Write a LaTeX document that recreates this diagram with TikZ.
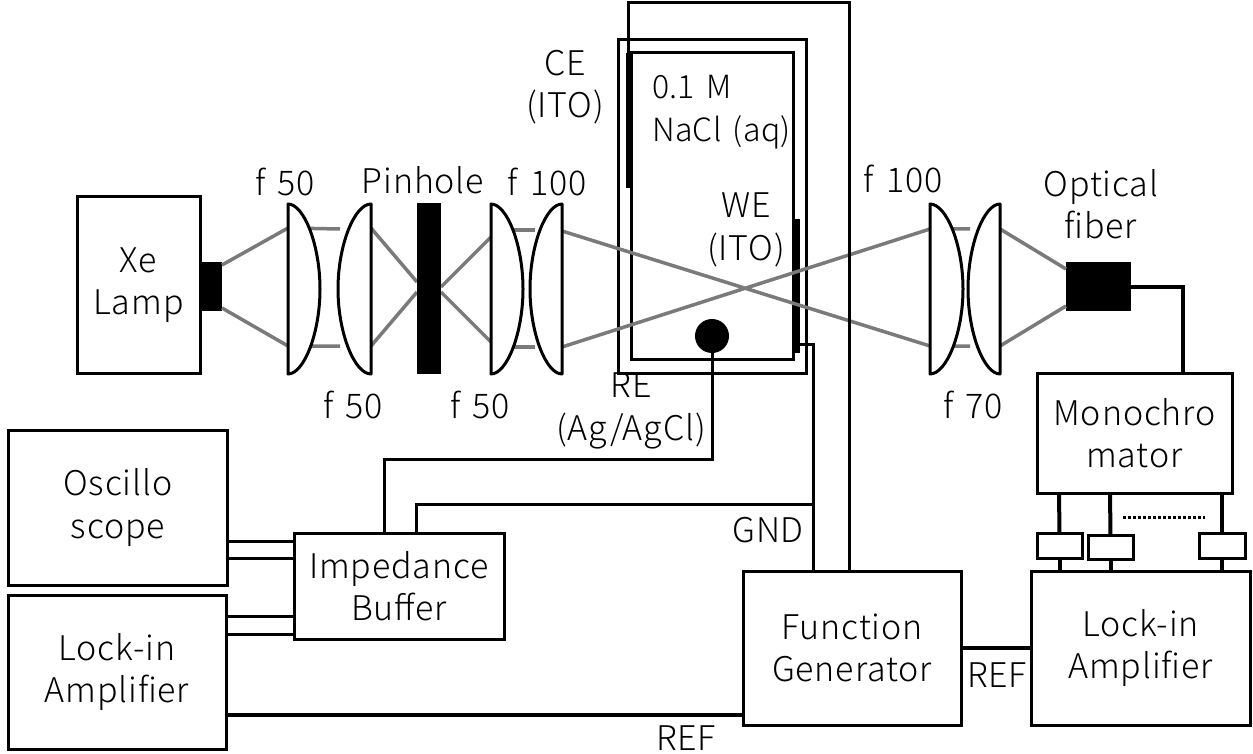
\documentclass[tikz,border=0pt]{standalone}
\usepackage{fontspec}
\setmainfont{Noto Sans CJK JP Light}[LetterSpace=2.5,WordSpace=1.5]
\tikzset{
	box/.style={draw,line width=3pt,align=center,outer sep=0pt,inner sep=0pt,fill=white},
	blk/.style={fill=black,draw=none,outer sep=0pt,inner sep=0pt},
	wire/.style={line width=3pt},
	ray/.style={line width=3.5pt,draw=black!52},
	lensline/.style={line width=3pt,fill=white,line join=round},
	lbl/.style={align=center,inner sep=0pt}
}
\begin{document}
\begin{tikzpicture}[x=1pt,y=-1pt,font=\fontsize{34}{42.5}\selectfont,line join=miter]
	\useasboundingbox (0,0) rectangle (1253,754);
	% cell
	\node[box,minimum width=188pt,minimum height=333pt] (cell) at (712,206.5) {};
	\node[box,minimum width=162pt,minimum height=306pt] (soln) at (712,206) {};
	\node[blk,minimum width=6pt,minimum height=135pt] (ce) at (629,120.5) {};
	\node[blk,minimum width=7pt,minimum height=134pt] (we) at (796.5,286) {};
	\node[circle,fill=black,minimum size=34pt,inner sep=0pt,outer sep=0pt] (re) at (712,336) {};
	% light path
	\node[blk,minimum width=22pt,minimum height=49pt] (lamp) at (211,286.5) {};
	\node[blk,minimum width=65pt,minimum height=49pt] (fiber) at (1098.5,286.5) {};
	\draw[ray] (222,265)--(288,228)--(340,229) (222,308)--(288,346)--(340,346);
	\draw[ray] (371,228)--(417,282) (371,346)--(417,292);
	\draw[ray] (441,287)--(491,237) (441,292)--(491,342);
	\draw[ray] (491,230)--(535,230) (491,347)--(535,347);
	\draw[ray] (562,231)--(930,346)--(970,346) (562,347)--(930,229)--(970,229);
	\draw[ray] (1000,229)--(1066,269) (1000,346)--(1066,306);
	\foreach \x/\w in {288/32,371/-33,491/32,562/-32,930/33,1000/-32}
		\draw[lensline,shift={(\x,0)},xscale=\w] (0,204) .. controls (.5,204) and (1,245) .. (1,289) .. controls (1,333) and (.5,374) .. (0,374) -- cycle;
	\node[blk,minimum width=24pt,minimum height=171pt] (pinhole) at (429,288.5) {};
	% instruments
	\node[box,minimum width=123pt,minimum height=176pt] (xe) at (138.5,285) {Xe\\Lamp};
	\node[box,minimum width=195pt,minimum height=120pt] (mono) at (1134.5,433) {Monochro\\mator};
	\node[box,minimum width=219pt,minimum height=155pt] (osc) at (118,507.5) {Oscillo\\scope};
	\node[box,minimum width=218pt,minimum height=154pt] (lockL) at (117,672) {Lock-in\\Amplifier};
	\node[box,minimum width=210pt,minimum height=106pt] (imp) at (399,586) {Impedance\\Buffer};
	\node[box,minimum width=218pt,minimum height=154pt] (fg) at (852,648) {Function\\Generator};
	\node[box,minimum width=219pt,minimum height=154pt] (lockR) at (1140.5,648) {Lock-in\\Amplifier};
	% choppers
	\coordinate (ch1) at (1059,493);
	\coordinate (ch2) at (1110,493);
	\coordinate (ch3) at (1222,493);
	\node[box,minimum width=45pt,minimum height=25pt] (sw1) at (1059.5,545.5) {};
	\node[box,minimum width=45pt,minimum height=24pt] (sw2) at (1110.5,547) {};
	\node[box,minimum width=46pt,minimum height=25pt] (sw3) at (1222,545.5) {};
	\foreach \s/\c in {sw1/ch1,sw2/ch2,sw3/ch3}{
		\draw[line width=4pt] (\c) -- (\s.north);
		\draw[line width=4pt] (\s.south) -- (lockR.north -| \s.south);
	}
	\draw[line width=3pt,dotted] (1123,517) -- (1205,517);
	% wires
	\coordinate (top1) at (628,3);
	\coordinate (top2) at (849,3);
	\coordinate (weout) at (813,344);
	\coordinate (reout) at (712,459);
	\coordinate (imp1) at (384,459);
	\coordinate (imp2) at (416,504);
	\coordinate (gnd) at (813,504);
	\coordinate (fib) at (1183,287);
	\coordinate (o1) at (0,541);
	\coordinate (o2) at (0,558);
	\coordinate (l1) at (0,616);
	\coordinate (l2) at (0,634);
	\coordinate (r1) at (0,715);
	\coordinate (f1) at (0,648);
	\draw[wire] (ce.north -| top1) -- (top1) -- (top2) -- (fg.north -| top2);
	\draw[wire] (we.east |- weout) -- (weout) -- (fg.north -| weout);
	\draw[wire] (re.center) -- (reout) -- (imp1) -- (imp.north -| imp1);
	\draw[wire] (imp.north -| imp2) -- (imp2) -- (gnd);
	\draw[line width=4pt] (fiber.east |- fib) -- (fib) -- (mono.north -| fib);
	\draw[wire] (osc.east |- o1) -- (imp.west |- o1);
	\draw[wire] (osc.east |- o2) -- (imp.west |- o2);
	\draw[wire] (lockL.east |- l1) -- (imp.west |- l1);
	\draw[wire] (lockL.east |- l2) -- (imp.west |- l2);
	\draw[line width=4pt] (lockL.east |- r1) -- (fg.west |- r1);
	\draw[line width=4pt] (fg.east |- f1) -- (lockR.west |- f1);
	% labels
	\node[lbl] (f1a) at (285,182) {f 50};
	\node[lbl] (ph) at (423,180) {Pinhole};
	\node[lbl] (f1b) at (547,182) {f 100};
	\node[lbl] (f2a) at (353,405) {f 50};
	\node[lbl] (f2b) at (480,405) {f 50};
	\node[lbl] (f3a) at (903,179) {f 100};
	\node[lbl] (f3b) at (973,405) {f 70};
	\node[lbl] (fb) at (1101,204) {Optical\\fiber};
	\node[lbl] (celbl) at (565,87) {CE\\(ITO)};
	\node[lbl] (welbl) at (746,230) {WE\\(ITO)};
	\node[lbl] (relbl) at (631,411) {RE\\(Ag/AgCl)};
	\node[lbl,align=left,anchor=west,font=\fontsize{32}{42.5}\selectfont\addfontfeatures{LetterSpace=1}] (nacl) at (652,112) {0.1 M\\NaCl (aq)};
	\node[lbl] (gndlbl) at (768,530) {GND};
	\node[lbl] (ref1) at (686,738) {REF};
	\node[lbl] (ref2) at (997,675) {REF};
\end{tikzpicture}
\end{document}
